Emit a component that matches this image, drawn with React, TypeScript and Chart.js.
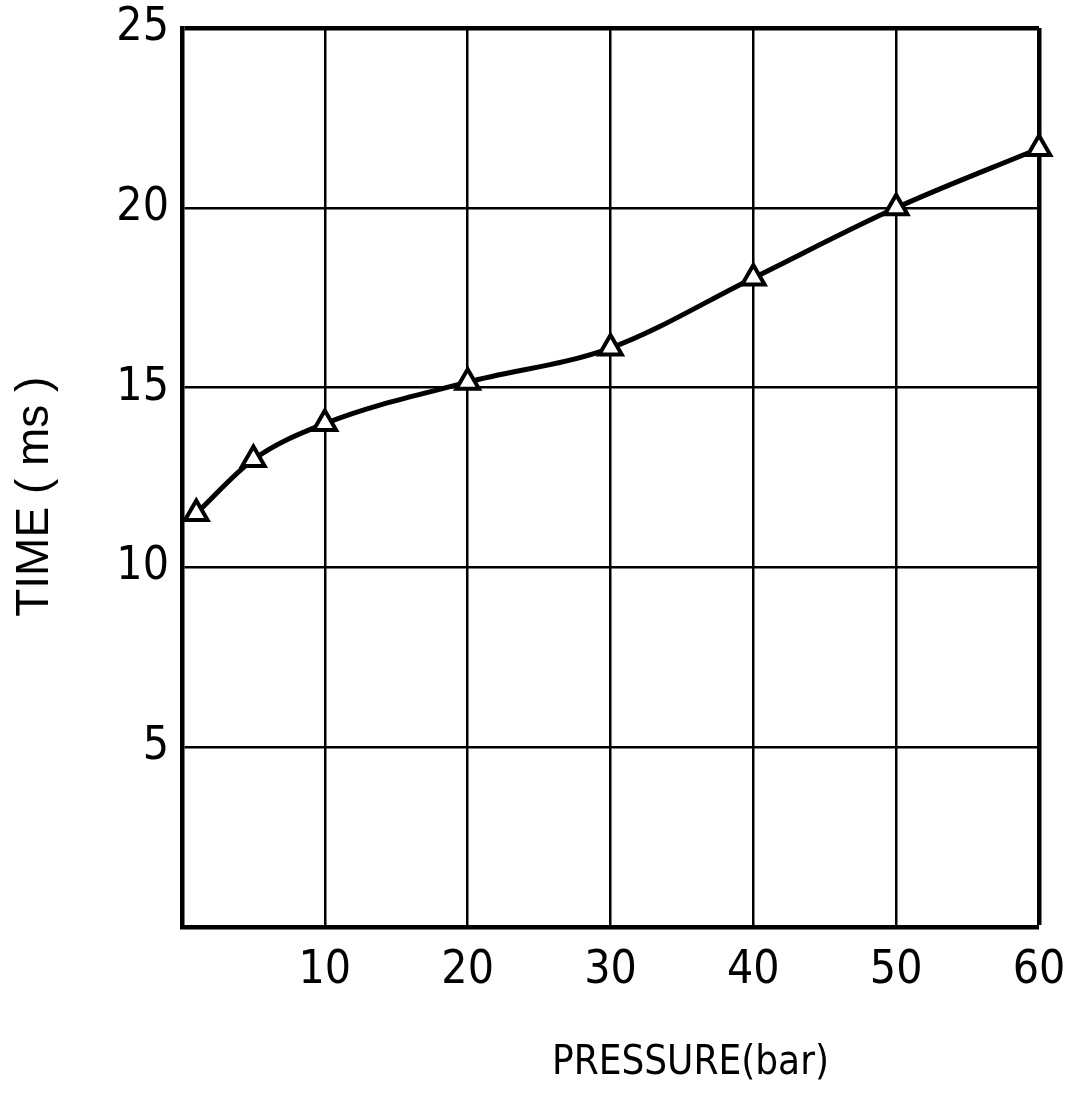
import React, { useEffect, useRef } from "react";
import { Chart, registerables } from "chart.js";

Chart.register(...registerables);

const pressures = [1, 5, 10, 20, 30, 40, 50, 60];
const times = [11.5, 13.0, 14.0, 15.15, 16.1, 18.05, 20.0, 21.65];
const xTickValues = [10, 20, 30, 40, 50, 60];
const yTickValues = [5, 10, 15, 20, 25];
const xTitle = "PRESSURE(bar)";
const yTitle = "TIME ( ms )";

const NARROW = "'Liberation Sans Narrow', 'DejaVu Sans Condensed', sans-serif";
const REGULAR = "'Liberation Sans', Arial, sans-serif";

export default function App() {
  const ref = useRef<HTMLCanvasElement | null>(null);

  useEffect(() => {
    if (!ref.current) return;
    const chart = new Chart(ref.current, {
      type: "line",
      data: {
        datasets: [
          {
            data: pressures.map((p, i) => ({ x: p, y: times[i] })),
            borderColor: "#000",
            borderWidth: 5,
            cubicInterpolationMode: "monotone",
            pointStyle: "triangle",
            pointRadius: 13,
            pointBorderWidth: 4,
            pointBackgroundColor: "#fff",
            pointBorderColor: "#000",
            fill: false,
            clip: false,
          },
        ],
      },
      options: {
        responsive: false,
        animation: false,
        layout: { padding: { top: 28, right: 32, left: 0, bottom: 0 } },
        plugins: { legend: { display: false }, tooltip: { enabled: false } },
        scales: {
          x: {
            type: "linear",
            min: 0,
            max: 60,
            afterFit: (s: any) => {
              s.height = 166;
              s.paddingLeft = 0;
              s.paddingRight = 0;
            },
            afterBuildTicks: (s: any) => {
              s.ticks = [0, ...xTickValues].map((v) => ({ value: v }));
            },
            ticks: {
              color: "#000",
              padding: 16,
              maxRotation: 0,
              font: { family: NARROW, size: 46 },
              callback: (v: any) => (xTickValues.includes(Number(v)) ? String(v) : ""),
            },
            grid: {
              color: "#000",
              drawTicks: false,
              lineWidth: (c: any) =>
                c.tick && c.tick.value === 60 ? 4.5 : c.tick && c.tick.value === 0 ? 0 : 2.5,
            },
            border: { display: true, color: "#000", width: 4.5 },
            title: {
              display: true,
              text: "              " + xTitle,
              color: "#000",
              font: { family: NARROW, size: 40 },
              padding: { top: 0, bottom: 5 },
            },
          },
          y: {
            type: "linear",
            min: 0,
            max: 25,
            afterFit: (s: any) => {
              s.width = 182;
              s.paddingTop = 0;
              s.paddingBottom = 0;
            },
            afterBuildTicks: (s: any) => {
              s.ticks = [0, ...yTickValues].map((v) => ({ value: v }));
            },
            ticks: {
              color: "#000",
              padding: 13,
              font: { family: NARROW, size: 46 },
              callback: (v: any) => (yTickValues.includes(Number(v)) ? String(v) : ""),
            },
            grid: {
              color: "#000",
              drawTicks: false,
              lineWidth: (c: any) =>
                c.tick && c.tick.value === 25 ? 4.5 : c.tick && c.tick.value === 0 ? 0 : 2.5,
            },
            border: { display: true, color: "#000", width: 4.5 },
            title: {
              display: true,
              text: yTitle + "   ",
              color: "#000",
              font: { family: REGULAR, size: 46 },
              padding: { top: 8, bottom: 0 },
            },
          },
        },
      },
    });
    return () => chart.destroy();
  }, []);

  return (
    <div style={{ position: "fixed", left: 0, top: 0, width: 1071, height: 1093, background: "#fff" }}>
      <canvas ref={ref} width={1071} height={1093} style={{ display: "block" }} />
    </div>
  );
}
